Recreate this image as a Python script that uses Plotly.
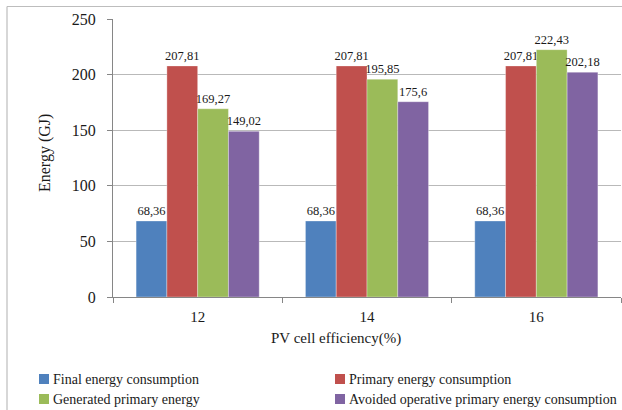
import plotly.graph_objects as go

# PV cell efficiency scenarios (%)
efficiency = ["12", "14", "16"]

# Energy figures per scenario (GJ)
final_energy = [68.36, 68.36, 68.36]
primary_energy = [207.81, 207.81, 207.81]
generated_primary = [169.27, 195.85, 222.43]
avoided_primary = [149.02, 175.6, 202.18]

series_names = [
    "Final energy consumption",
    "Primary energy consumption",
    "Generated primary energy",
    "Avoided operative primary energy consumption",
]
series_values = [final_energy, primary_energy, generated_primary, avoided_primary]
series_colors = ["#4F81BD", "#C0504D", "#9BBB59", "#8064A2"]

y_ticks = [0, 50, 100, 150, 200, 250]

FONT = "Liberation Serif"
W, H = 622, 410
L, R, T, B = 113, 621, 19, 297  # plot area in pixels


def px(x):
    return (x - L) / (R - L)


def py(y):
    return (B - y) / (B - T)


def comma(v):
    return f"{v:g}".replace(".", ",")


fig = go.Figure()
for name, vals, col in zip(series_names, series_values, series_colors):
    fig.add_trace(go.Bar(
        x=efficiency,
        y=vals,
        name=name,
        marker=dict(color=col, line=dict(width=0.6, color="rgba(255,255,255,0.55)")),
        text=[comma(v) for v in vals],
        textposition="outside",
        constraintext="none",
        textfont=dict(family=FONT, size=12.5, color="#1a1a1a"),
        cliponaxis=False,
        showlegend=False,
    ))

shapes = [
    # chart frame (top and left edges)
    dict(type="line", xref="paper", yref="paper", x0=px(7), x1=px(622), y0=py(6.5), y1=py(6.5),
         line=dict(color="#bdbdbd", width=1.2)),
    dict(type="line", xref="paper", yref="paper", x0=px(7), x1=px(7), y0=py(6.5), y1=py(412),
         line=dict(color="#bdbdbd", width=1.2)),
]
annotations = [
    dict(text="PV cell efficiency(%)", xref="paper", yref="paper", x=px(336), y=py(338),
         xanchor="center", yanchor="middle", showarrow=False,
         font=dict(family=FONT, size=15, color="#1a1a1a")),
    dict(text="Energy (GJ)", xref="paper", yref="paper", x=px(45), y=py(153), textangle=-90,
         xanchor="center", yanchor="middle", showarrow=False,
         font=dict(family=FONT, size=16, color="#1a1a1a")),
]

# legend laid out in two columns below the axis
legend_pos = [(39, 379), (335, 379), (39, 399), (335, 399)]
for (lx, ly), name, col in zip(legend_pos, series_names, series_colors):
    shapes.append(dict(type="rect", xref="paper", yref="paper",
                       x0=px(lx), x1=px(lx + 10), y0=py(ly + 5), y1=py(ly - 5),
                       fillcolor=col, line=dict(width=0)))
    annotations.append(dict(text=name, xref="paper", yref="paper", x=px(lx + 12), y=py(ly),
                            xanchor="left", yanchor="middle", showarrow=False,
                            font=dict(family=FONT, size=14, color="#1a1a1a")))

fig.update_layout(
    width=W, height=H,
    margin=dict(l=L, r=W - R, t=T, b=H - B, pad=0),
    paper_bgcolor="white", plot_bgcolor="white",
    barmode="group", bargap=0.273, bargroupgap=0,
    font=dict(family=FONT, color="#1a1a1a"),
    shapes=shapes, annotations=annotations,
    xaxis=dict(
        type="category", tickson="boundaries", ticks="outside", ticklen=5,
        tickcolor="#868686", showline=True, linecolor="#868686", linewidth=1,
        showgrid=False, tickfont=dict(family=FONT, size=15), ticklabelstandoff=6,
    ),
    yaxis=dict(
        range=[0, 250], tickvals=y_ticks, ticks="outside", ticklen=5, tickcolor="#868686",
        showline=True, linecolor="#868686", linewidth=1, showgrid=True,
        gridcolor="#b9b9b9", gridwidth=1, zeroline=False,
        tickfont=dict(family=FONT, size=16), ticklabelstandoff=8,
    ),
)

fig.write_html("out.html")
